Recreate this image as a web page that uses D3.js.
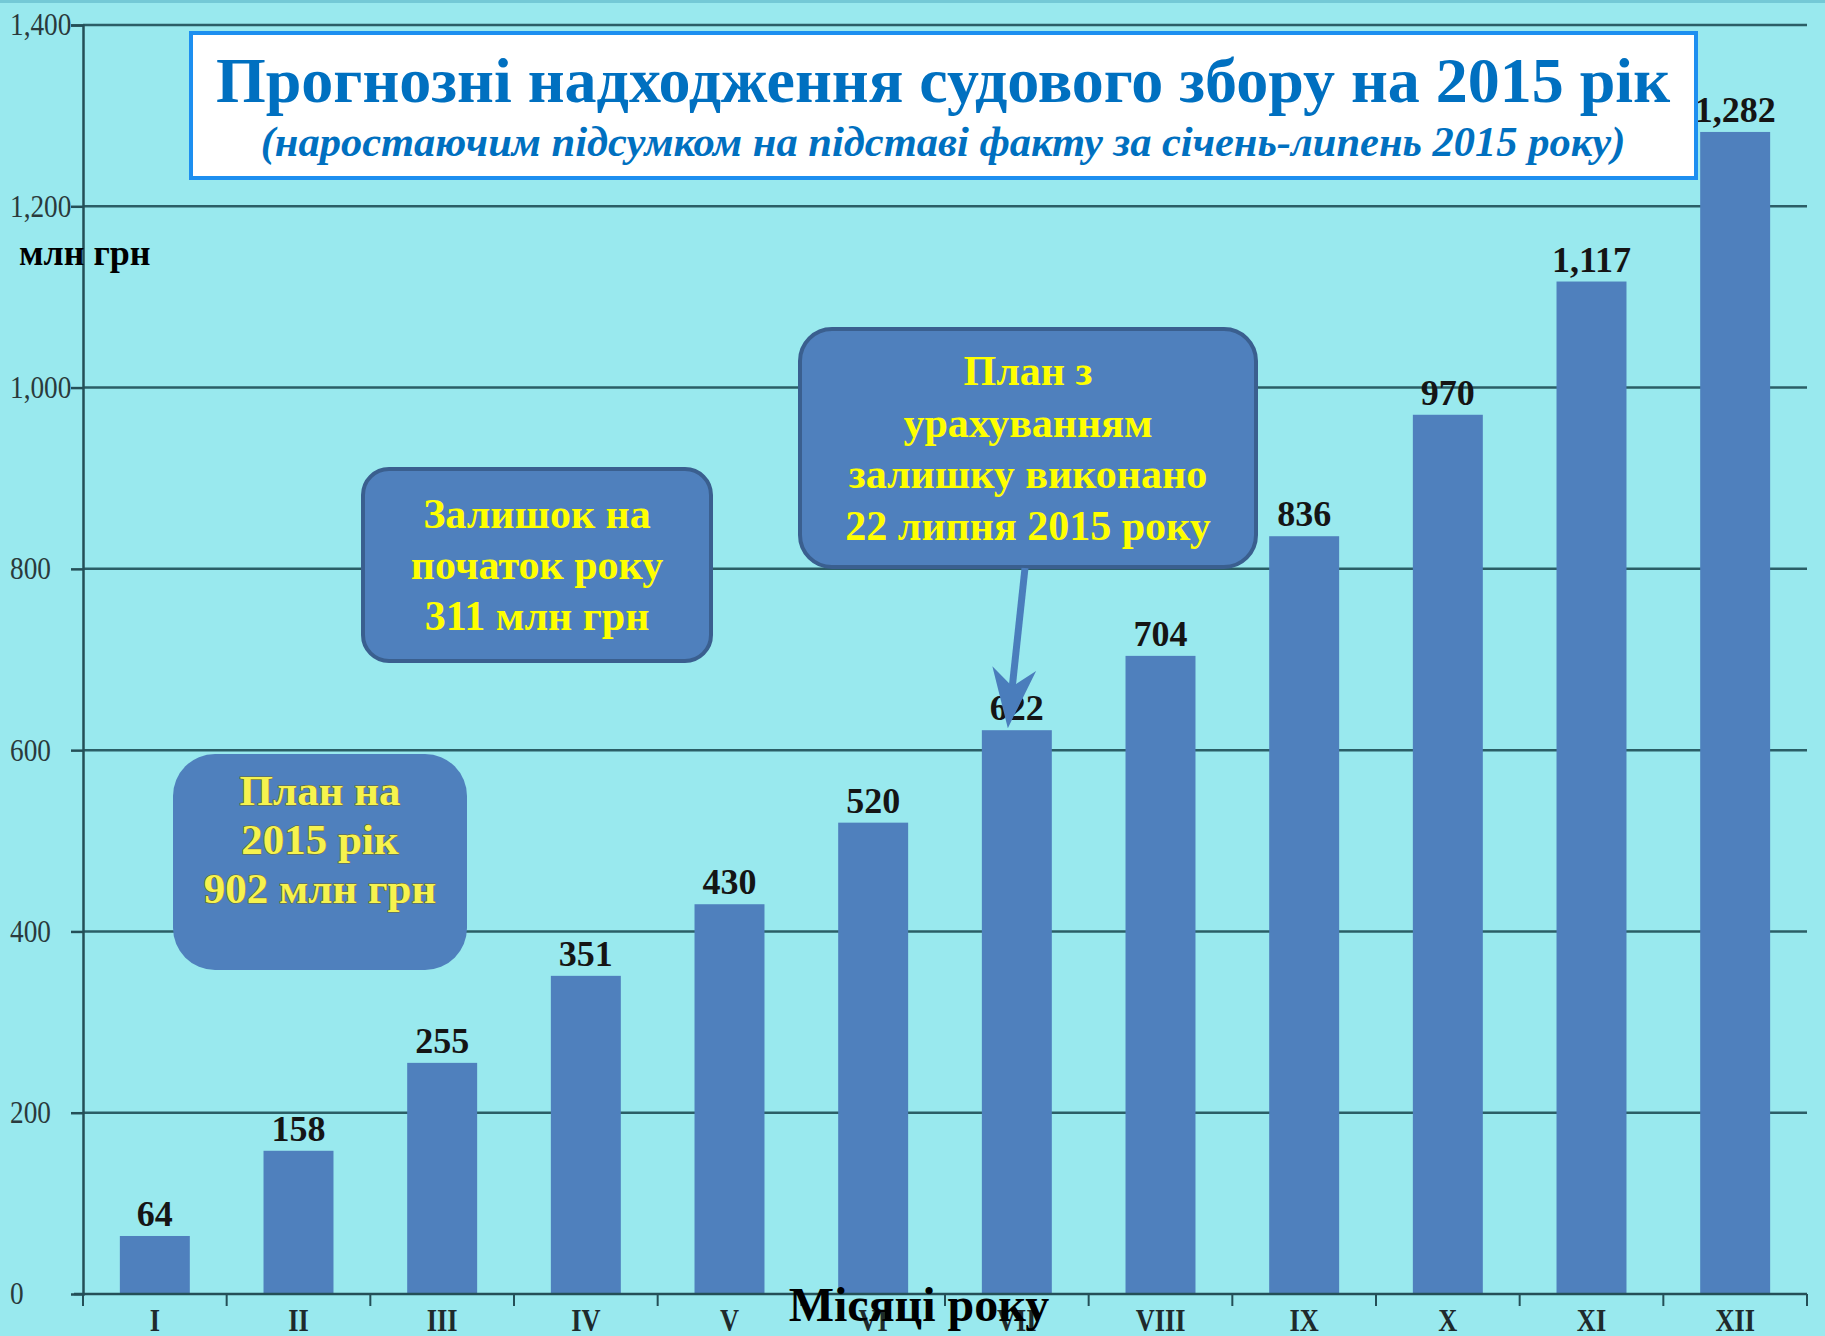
<!DOCTYPE html>
<html>
<head>
<meta charset="utf-8">
<script src="https://cdn.jsdelivr.net/npm/d3@7"></script>
<style>
  body { margin: 0; background: #99e9ee; }
  svg { display: block; }
  text { font-family: "Liberation Serif", "Times New Roman", serif; }
</style>
</head>
<body>
<div id="chart"></div>
<script>
"use strict";

// data
var months = ["I", "II", "III", "IV", "V", "VI", "VII", "VIII", "IX", "X", "XI", "XII"];
var income = [64, 158, 255, 351, 430, 520, 622, 704, 836, 970, 1117, 1282];
var yTicks = [0, 200, 400, 600, 800, 1000, 1200, 1400];

var titleText = "Прогнозні надходження судового збору на 2015 рік";
var subtitleText = "(наростаючим підсумком на підставі факту за січень-липень 2015 року)";
var balanceLines = ["Залишок на", "початок року", "311 млн грн"];
var doneLines = ["План з", "урахуванням", "залишку виконано", "22 липня 2015 року"];
var planLines = ["План на", "2015 рік", "902 млн грн"];

var W = 1825, H = 1336;
var plot = { left: 83, right: 1807, top: 25, bottom: 1294 };
var squeeze = 0.88;   // the scanned axis labels look narrow

var svg = d3.select("#chart").append("svg")
  .attr("width", W)
  .attr("height", H);

svg.append("rect")
  .attr("width", W).attr("height", H)
  .attr("fill", "#99e9ee");
svg.append("rect")
  .attr("width", W).attr("height", 3)
  .attr("fill", "#74c9d6");

var x = d3.scaleBand()
  .domain(months)
  .range([plot.left, plot.right])
  .paddingInner(0.513)
  .paddingOuter(0.2565);

var y = d3.scaleLinear()
  .domain([0, 1400])
  .range([plot.bottom, plot.top]);

// gridlines
svg.append("g")
  .selectAll("line")
  .data(yTicks.filter(d => d > 0))
  .join("line")
    .attr("x1", plot.left)
    .attr("x2", plot.right)
    .attr("y1", d => y(d))
    .attr("y2", d => y(d))
    .attr("stroke", "#2b5e66")
    .attr("stroke-width", 2.5);

// y axis
var yAxis = svg.append("g")
  .attr("transform", "translate(" + plot.left + ",0)")
  .call(d3.axisLeft(y).tickValues(yTicks).tickSize(12).tickFormat(d3.format(",")));
yAxis.select(".domain").attr("stroke", "#244f57").attr("stroke-width", 2.5);
yAxis.selectAll(".tick line").attr("stroke", "#244f57").attr("stroke-width", 2.5);
yAxis.selectAll(".tick").filter(d => d === 0).select("line").remove();
yAxis.selectAll(".tick text")
  .attr("transform", "scale(" + squeeze + ",1)")
  .attr("x", (-plot.left + 10) / squeeze)
  .attr("text-anchor", "start")
  .attr("font-family", "Liberation Serif")
  .attr("font-size", 31)
  .attr("fill", "#2a3a3c");

// bars
svg.append("g")
  .selectAll("rect")
  .data(income)
  .join("rect")
    .attr("x", (d, i) => x(months[i]))
    .attr("y", d => y(d))
    .attr("width", x.bandwidth())
    .attr("height", d => y(0) - y(d))
    .attr("fill", "#4f80bd");

// x axis
var xAxis = svg.append("g")
  .attr("transform", "translate(0," + plot.bottom + ")")
  .call(d3.axisBottom(x).tickSize(0).tickPadding(15));
xAxis.select(".domain").remove();
xAxis.append("line")
  .attr("x1", plot.left - 9).attr("x2", plot.right)
  .attr("stroke", "#244f57").attr("stroke-width", 2.5);
xAxis.selectAll(".bnd")
  .data(d3.range(months.length + 1))
  .join("line")
    .attr("class", "bnd")
    .attr("x1", i => x.range()[0] + i * x.step())
    .attr("x2", i => x.range()[0] + i * x.step())
    .attr("y1", 0).attr("y2", 12)
    .attr("stroke", "#244f57").attr("stroke-width", 2);
xAxis.selectAll(".tick text")
  .attr("transform", "scale(0.85,1)")
  .attr("font-family", "Liberation Serif")
  .attr("font-weight", "bold")
  .attr("font-size", 31)
  .attr("fill", "#1e2a2c");

// value labels
svg.append("g")
  .selectAll("text")
  .data(income)
  .join("text")
    .attr("x", (d, i) => x(months[i]) + x.bandwidth() / 2)
    .attr("y", d => y(d) - 10)
    .attr("text-anchor", "middle")
    .attr("font-weight", "bold")
    .attr("font-size", 36)
    .attr("fill", "#151515")
    .text(d => d3.format(",")(d));

// axis titles
svg.append("text")
  .attr("x", 19).attr("y", 265)
  .attr("font-weight", "bold")
  .attr("font-size", 36)
  .attr("fill", "#000")
  .text("млн грн");

svg.append("text")
  .attr("x", 919).attr("y", 1321)
  .attr("text-anchor", "middle")
  .attr("font-weight", "bold")
  .attr("font-size", 48)
  .attr("fill", "#000")
  .text("Місяці року");

// title box
svg.append("rect")
  .attr("x", 191).attr("y", 33)
  .attr("width", 1505).attr("height", 145)
  .attr("fill", "#fff")
  .attr("stroke", "#1d8ff0")
  .attr("stroke-width", 4);
svg.append("text")
  .attr("x", 943).attr("y", 102)
  .attr("text-anchor", "middle")
  .attr("font-weight", "bold")
  .attr("font-size", 64)
  .attr("fill", "#0070c0")
  .text(titleText);
svg.append("text")
  .attr("x", 943).attr("y", 156)
  .attr("text-anchor", "middle")
  .attr("font-weight", "bold")
  .attr("font-style", "italic")
  .attr("font-size", 42.5)
  .attr("fill", "#0070c0")
  .text(subtitleText);

// callouts
function callout(bx, by, bw, bh, rx, lines, cy, lh, fs, stroke) {
  var g = svg.append("g");
  g.append("rect")
    .attr("x", bx).attr("y", by)
    .attr("width", bw).attr("height", bh)
    .attr("rx", rx)
    .attr("fill", "#4f80bd")
    .attr("stroke", stroke || "none")
    .attr("stroke-width", 4);
  g.selectAll("text")
    .data(lines)
    .join("text")
      .attr("x", bx + bw / 2)
      .attr("y", (d, i) => cy + i * lh)
      .attr("text-anchor", "middle")
      .attr("font-weight", "bold")
      .attr("font-size", fs)
      .attr("fill", "#ffff00")
      .text(d => d);
  return g;
}

callout(363, 469, 348, 192, 26, balanceLines, 528, 51, 42, "#3a5f8f");
callout(800, 329, 456, 238, 32, doneLines, 385, 51.5, 42, "#3a5f8f");
var plan = callout(173, 754, 294, 216, 42, planLines, 805, 49, 43);
plan.selectAll("text")
  .attr("fill", "#f6f34e")
  .attr("stroke", "#6d6c2c")
  .attr("stroke-width", 1.2)
  .attr("paint-order", "stroke");

// arrow to the July bar
var tipX = x("VII") + x.bandwidth() / 2 - 9, tipY = y(622) - 2;
var fromX = 1025, fromY = 568;
var ang = Math.atan2(tipY - fromY, tipX - fromX);
var ux = Math.cos(ang), uy = Math.sin(ang), px = -uy, py = ux;
svg.append("line")
  .attr("x1", fromX).attr("y1", fromY)
  .attr("x2", tipX - ux * 30).attr("y2", tipY - uy * 30)
  .attr("stroke", "#4a7dbc")
  .attr("stroke-width", 7);
svg.append("path")
  .attr("d", d3.line()([
    [tipX, tipY],
    [tipX - ux * 60 + px * 22, tipY - uy * 60 + py * 22],
    [tipX - ux * 42, tipY - uy * 42],
    [tipX - ux * 60 - px * 22, tipY - uy * 60 - py * 22]
  ]) + "Z")
  .attr("fill", "#4a7dbc");
</script>
</body>
</html>
